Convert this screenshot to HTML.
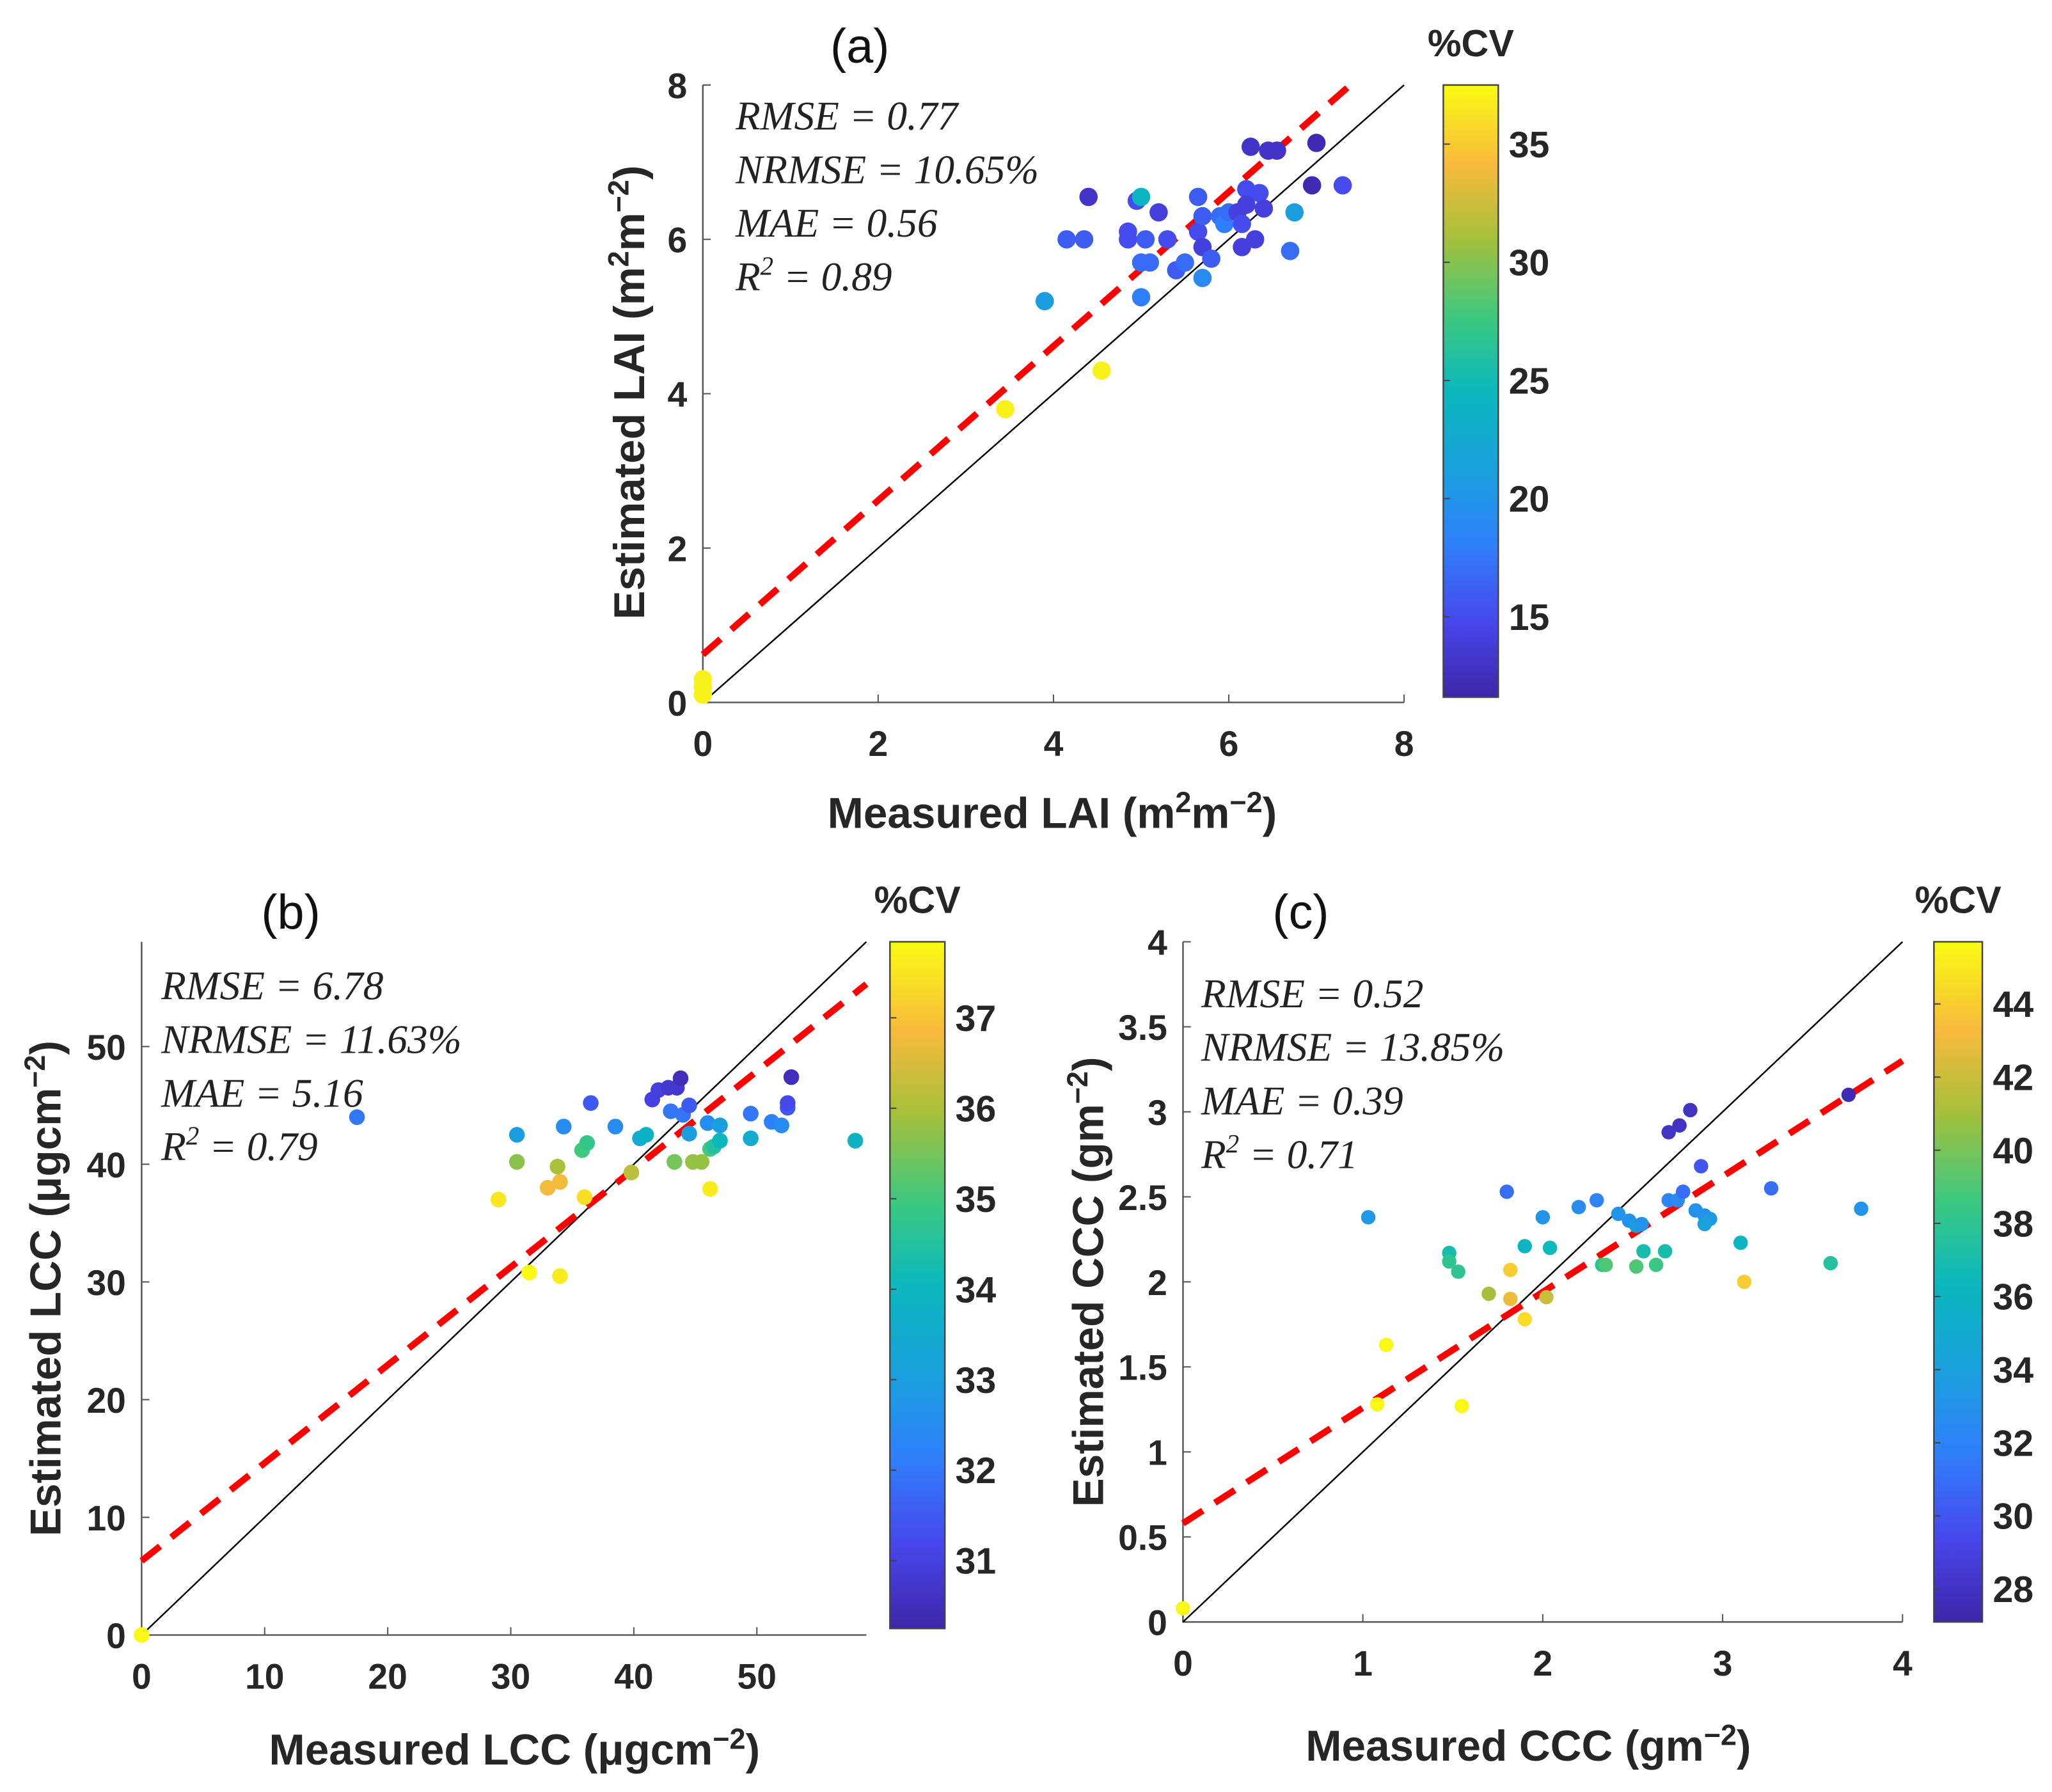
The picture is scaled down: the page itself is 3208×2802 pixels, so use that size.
<!DOCTYPE html>
<html><head><meta charset="utf-8"><style>
html,body{margin:0;padding:0;background:#fff;}
svg{display:block;}
.tk{font-family:"Liberation Sans",sans-serif;font-weight:bold;fill:#262626;font-size:27px;}
.lb{font-family:"Liberation Sans",sans-serif;font-weight:bold;fill:#262626;font-size:33px;}
.st{font-family:"Liberation Serif",serif;font-style:italic;fill:#222;font-size:31px;}
.ti{font-family:"Liberation Sans",sans-serif;fill:#111;font-size:37px;}
</style></head><body>
<svg id="chart" width="3208" height="2802" viewBox="0 0 1568 1370" xmlns="http://www.w3.org/2000/svg">
<defs>
<linearGradient id="parula" x1="0" y1="1" x2="0" y2="0">
<stop offset="0" stop-color="#3e26a8"/><stop offset="0.12" stop-color="#4746eb"/><stop offset="0.25" stop-color="#2f80fa"/><stop offset="0.37" stop-color="#1aa0dd"/><stop offset="0.5" stop-color="#0bb8bd"/><stop offset="0.62" stop-color="#3dc880"/><stop offset="0.75" stop-color="#a6c03b"/><stop offset="0.87" stop-color="#f8ba3c"/><stop offset="1" stop-color="#f9fb15"/>
</linearGradient>
</defs>
<g id="root"></g>
</svg>
<script>
// Panel (a) LAI
const aX=[0,0,0,3.45,4.55,3.9,4.15,4.35,4.4,4.85,4.85,4.95,5.0,5.05,5.0,5.0,5.1,5.2,5.3,5.4,5.5,5.65,5.65,5.7,5.7,5.7,5.8,5.9,5.95,6.0,6.1,6.15,6.15,6.2,6.25,6.3,6.35,6.4,6.45,6.55,6.7,6.75,6.95,7.0,7.3,6.2];
const aY=[0.1,0.2,0.3,3.8,4.3,5.2,6.0,6.0,6.55,6.1,6.0,6.5,6.55,6.0,5.25,5.7,5.7,6.35,6.0,5.6,5.7,6.55,6.1,5.9,6.3,5.5,5.75,6.3,6.2,6.35,6.35,6.2,5.9,6.65,7.2,6.0,6.6,6.4,7.15,7.15,5.85,6.35,6.7,7.25,6.7,6.45];
const aC=[37,37,37,37,37,21,16,16,13,15,15,15,24,16,18,17,17,14,15,16,17,16,15,14,16,19,16,17,18,17,14,15,14,15,13,14,15,14,13,13,17,21,12,12,15,14];
const aXTicks=[0,2,4,6,8], aYTicks=[0,2,4,6,8], aCTicks=[15,20,25,30,35];
const aFit=[0.62,0.999];
// Panel (b) LCC
const bX=[0,17.5,29,30.5,30.5,31.5,33,33.8,34,34,34.3,35.8,36,36.2,36.5,38.5,39.8,40.5,41,41.5,42,42.8,43,43.5,43.3,43.8,44,44.5,44.5,44.8,45.5,46,46.2,46.2,46.5,47,47,49.5,49.5,51.2,52,52.5,52.5,52.8,58];
const bY=[0,44,37,42.5,40.2,30.8,38,39.8,38.5,30.5,43.2,41.2,37.2,41.8,45.2,43.2,39.3,42.2,42.5,45.5,46.3,46.5,44.5,46.5,40.2,47.3,44.2,45,42.6,40.2,40.2,43.5,37.9,41.3,41.5,43.3,42,44.3,42.2,43.6,43.3,44.8,45.2,47.4,42];
const bC=[37.8,32,37.5,33,35.7,37.8,36.8,36,36.8,37.6,32.5,35,37.4,34.8,31.5,32.5,36.2,33.5,33.8,31,31,30.8,32,30.8,35.5,30.5,32,31.5,33,35.8,35.8,32.5,37.6,35,34.5,33,34,32,33.5,32.2,32.5,31.5,31.2,30.5,33.8];
const bXTicks=[0,10,20,30,40,50], bYTicks=[0,10,20,30,40,50], bCTicks=[31,32,33,34,35,36,37];
const bFit=[6.3,0.832];
// Panel (c) CCC
const cX=[0,1.03,1.08,1.13,1.48,1.48,1.53,1.55,1.7,1.8,1.82,1.82,1.9,1.9,2.0,2.02,2.04,2.2,2.3,2.33,2.35,2.42,2.48,2.52,2.55,2.52,2.56,2.63,2.68,2.7,2.7,2.75,2.76,2.78,2.82,2.85,2.88,2.9,2.93,2.9,3.1,3.12,3.27,3.6,3.7,3.77];
const cY=[0.08,2.38,1.28,1.63,2.17,2.12,2.06,1.27,1.93,2.53,2.07,1.9,2.21,1.78,2.38,1.91,2.2,2.44,2.48,2.1,2.1,2.4,2.36,2.33,2.34,2.09,2.18,2.1,2.18,2.88,2.48,2.48,2.92,2.53,3.01,2.42,2.68,2.39,2.37,2.34,2.23,2.0,2.55,2.11,3.1,2.43];
const cC=[45.5,33.5,45.5,45.5,37,38,38,45.5,41,31,44,43,36,44.5,33,42,36.5,32.5,32,38,39,33,33,34,33,39,37,38.5,37,28,32,32.5,28,31,28,33,30,33,33.5,34,36,44,31,37.5,27.5,33];
const cXTicks=[0,1,2,3,4], cYTicks=[0,0.5,1,1.5,2,2.5,3,3.5,4], cCTicks=[28,30,32,34,36,38,40,42,44];
const cFit=[0.58,0.68];

const NS="http://www.w3.org/2000/svg";
const root=document.getElementById('root');
function mk(tag,at,parent,txt){const e=document.createElementNS(NS,tag);for(const k in at)e.setAttribute(k,at[k]);if(txt!==undefined)e.textContent=txt;(parent||root).appendChild(e);return e;}
const stops=[[0,[62,38,168]],[0.12,[71,70,235]],[0.25,[47,128,250]],[0.37,[26,160,221]],[0.5,[11,184,189]],[0.62,[61,200,128]],[0.75,[166,192,59]],[0.87,[248,186,60]],[1,[249,251,21]]];
function parula(t){t=Math.max(0,Math.min(1,t));for(let i=1;i<stops.length;i++){if(t<=stops[i][0]){const a=stops[i-1],b=stops[i];const f=(t-a[0])/(b[0]-a[0]);return 'rgb('+a[1].map((v,k)=>Math.round(v+(b[1][k]-v)*f)).join(',')+')';}}return 'rgb(249,251,21)';}

function panel(p){
  const g=mk('g',{});
  
  
  const sx=v=>p.x0+(v-p.xmin)/(p.xmax-p.xmin)*(p.x1-p.x0);
  const sy=v=>p.y0-(v-p.ymin)/(p.ymax-p.ymin)*(p.y0-p.y1);
  const ax=mk('path',{d:`M${p.x0},${p.y1}V${p.y0}H${p.x1}`,fill:'none',stroke:'#555','stroke-width':1.2},g);
  
  
  p.xt.forEach(v=>{mk('line',{x1:sx(v),x2:sx(v),y1:p.y0,y2:p.y0-6,stroke:'#555'},g);
    const t=mk('text',{x:sx(v),y:p.y0+41,'text-anchor':'middle',class:'tk'},g,String(v));
    
    });
  p.yt.forEach(v=>{mk('line',{x1:p.x0,x2:p.x0+6,y1:sy(v),y2:sy(v),stroke:'#555'},g);
    const t=mk('text',{x:p.x0-12,y:sy(v)+10,'text-anchor':'end',class:'tk'},g,String(v));
    
    });
  const m=Math.min(p.xmax,p.ymax);
  const il=mk('line',{x1:sx(0),y1:sy(0),x2:sx(m),y2:sy(m),stroke:'#000','stroke-width':1.2},g);
  
  
  let xe=p.xmax;let ye=p.fit[0]+p.fit[1]*xe;if(ye>p.ymax){ye=p.ymax;xe=(ye-p.fit[0])/p.fit[1];}
  const fl=mk('line',{x1:sx(0),y1:sy(p.fit[0]),x2:sx(xe),y2:sy(ye),stroke:'#ff0000','stroke-width':5,'stroke-dasharray':'18,11'},g);
  
  
  p.xs.forEach((v,i)=>{const c=mk('circle',{cx:sx(v),cy:sy(p.ys[i]),r:p.r,fill:parula((p.cs[i]-p.cmin)/(p.cmax-p.cmin))},g);
    
    });
  p.stats.forEach((s,i)=>{const t=mk('text',{x:p.sxTxt,y:p.syTxt+i*41,class:'st'},g);
    t.innerHTML=s;
    
    });
  const xl=mk('text',{x:p.xlx,y:p.xly,'text-anchor':'middle',class:'lb'},g);
  xl.innerHTML=p.xl;
  
  
  const yl=mk('text',{x:0,y:0,'text-anchor':'middle',class:'lb',transform:`translate(${p.ylx},${p.yly}) rotate(-90)`},g);
  yl.innerHTML=p.yl;
  
  
  const ti=mk('text',{x:p.tx,y:p.ty,'text-anchor':'middle',class:'ti'},g,p.title);
  
  
  const cb=mk('rect',{x:p.cbx,y:p.cby0,width:p.cbw,height:p.cby1-p.cby0,fill:'url(#parula)',stroke:'#444','stroke-width':1.2},g);
  
  
  const cy=v=>p.cby1-(v-p.cmin)/(p.cmax-p.cmin)*(p.cby1-p.cby0);
  p.ct.forEach(v=>{mk('line',{x1:p.cbx,x2:p.cbx+5,y1:cy(v),y2:cy(v),stroke:'#444'},g);
    const t=mk('text',{x:p.cbx+p.cbw+8,y:cy(v)+10,class:'tk',style:'font-size:28px'},g,String(v));
    
    });
  const ct=mk('text',{x:p.cbx+p.cbw/2,y:p.cby0-22,'text-anchor':'middle',class:'tk',style:'font-size:29px'},g,'%CV');
  
  
}
const st=(a,b,c,d)=>[`RMSE = ${a}`,`NRMSE = ${b}%`,`MAE = ${c}`,`R<tspan dy="-12" font-size="20">2</tspan><tspan dy="12"> = ${d}</tspan>`];
panel({name:'panel-a-lai',x0:537,x1:1073,y0:537,y1:65,xmin:0,xmax:8,ymin:0,ymax:8,xt:aXTicks,yt:aYTicks,xs:aX,ys:aY,cs:aC,fit:aFit,r:7,
 cmin:11.6,cmax:37.5,cbx:1103,cbw:42,cby0:65,cby1:533,ct:aCTicks,stats:st('0.77','10.65','0.56','0.89'),sxTxt:562,syTxt:99,
 xl:'Measured LAI (m<tspan dy="-12" font-size="22">2</tspan><tspan dy="12">m</tspan><tspan dy="-12" font-size="22">−2</tspan><tspan dy="12">)</tspan>',xlx:804,xly:633,
 yl:'Estimated LAI (m<tspan dy="-12" font-size="22">2</tspan><tspan dy="12">m</tspan><tspan dy="-12" font-size="22">−2</tspan><tspan dy="12">)</tspan>',ylx:492,yly:300,title:'(a)',tx:657,ty:48});
panel({name:'panel-b-lcc',x0:108,x1:662,y0:1250,y1:720,xmin:0,xmax:58.9,ymin:0,ymax:58.9,xt:bXTicks,yt:bYTicks,xs:bX,ys:bY,cs:bC,fit:bFit,r:6,
 cmin:30.25,cmax:37.84,cbx:680,cbw:42,cby0:720,cby1:1245,ct:bCTicks,stats:st('6.78','11.63','5.16','0.79'),sxTxt:123,syTxt:764,
 xl:'Measured LCC (μgcm<tspan dy="-12" font-size="22">−2</tspan><tspan dy="12">)</tspan>',xlx:393,xly:1349,
 yl:'Estimated LCC (μgcm<tspan dy="-12" font-size="22">−2</tspan><tspan dy="12">)</tspan>',ylx:46,yly:985,title:'(b)',tx:222,ty:710});
panel({name:'panel-c-ccc',x0:904,x1:1454,y0:1240,y1:720,xmin:0,xmax:4,ymin:0,ymax:4,xt:cXTicks,yt:cYTicks,xs:cX,ys:cY,cs:cC,fit:cFit,r:5.5,
 cmin:27.1,cmax:45.7,cbx:1478,cbw:37,cby0:720,cby1:1240,ct:cCTicks,stats:st('0.52','13.85','0.39','0.71'),sxTxt:918,syTxt:770,
 xl:'Measured CCC (gm<tspan dy="-12" font-size="22">−2</tspan><tspan dy="12">)</tspan>',xlx:1168,xly:1346,
 yl:'Estimated CCC (gm<tspan dy="-12" font-size="22">−2</tspan><tspan dy="12">)</tspan>',ylx:843,yly:980,title:'(c)',tx:994,ty:710});
</script>
</body></html>
